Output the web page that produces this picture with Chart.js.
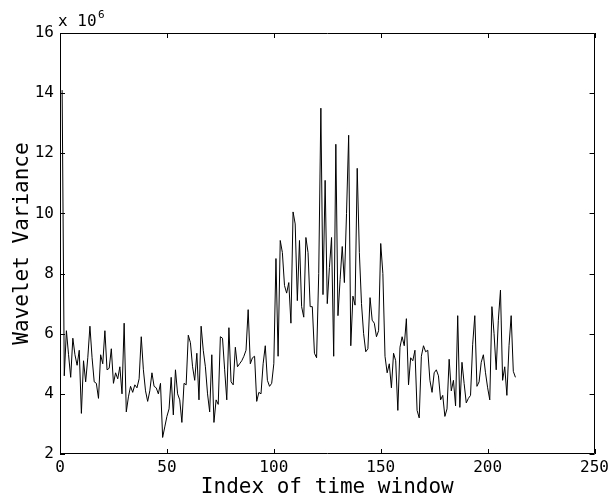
<!DOCTYPE html>
<html>
<head>
<meta charset="utf-8">
<script src="https://cdn.jsdelivr.net/npm/chart.js@4"></script>
<style>
  html, body { margin: 0; padding: 0; background: #fff; }
  #wrap { width: 613px; height: 504px; }
</style>
</head>
<body>
<div id="wrap"><canvas id="graph" width="613" height="504"></canvas></div>
<script>
// wavelet variance per time window, in units of 10^6
const variance = [
  14.1, 4.6, 6.1, 5.3, 4.55, 5.85, 5.3, 4.95, 5.45, 3.35,
  5.1, 4.4, 5.2, 6.25, 5.2, 4.4, 4.35, 3.85, 5.3, 5.0,
  6.1, 4.8, 4.85, 5.5, 4.35, 4.7, 4.5, 4.9, 4.0, 6.35,
  3.4, 3.9, 4.25, 4.05, 4.3, 4.2, 4.5, 5.9, 4.8, 4.1,
  3.75, 4.1, 4.7, 4.25, 4.2, 4.0, 4.35, 2.55, 2.9, 3.25,
  3.5, 4.55, 3.3, 4.8, 4.0, 3.8, 3.05, 4.35, 4.3, 5.95,
  5.7, 4.9, 4.45, 5.35, 3.8, 6.25, 5.45, 4.9, 4.0, 3.4,
  5.3, 3.05, 3.8, 3.65, 5.9, 5.85, 4.8, 3.8, 6.2, 4.4,
  4.3, 5.55, 4.9, 5.0, 5.1, 5.25, 5.45, 6.8, 5.0, 5.2,
  5.25, 3.75, 4.05, 4.0, 5.0, 5.6, 4.45, 4.25, 4.35, 5.0,
  8.5, 5.25, 9.1, 8.7, 7.6, 7.35, 7.7, 6.35, 10.05, 9.65,
  7.1, 9.1, 6.9, 6.55, 9.2, 8.7, 6.9, 6.9, 5.35, 5.2,
  8.0, 13.5, 7.3, 11.1, 7.0, 8.2, 9.2, 5.25, 12.3, 6.6,
  7.8, 8.9, 7.7, 10.0, 12.6, 5.6, 7.25, 6.95, 11.5, 8.7,
  7.0, 6.0, 5.4, 5.5, 7.2, 6.45, 6.35, 5.9, 6.1, 9.0,
  8.0, 5.25, 4.7, 5.0, 4.2, 5.35, 5.1, 3.45, 5.55, 5.9,
  5.6, 6.5, 4.3, 5.2, 5.1, 5.45, 3.45, 3.2, 5.25, 5.6,
  5.4, 5.45, 4.45, 4.05, 4.7, 4.8, 4.6, 3.8, 3.95, 3.25,
  3.5, 5.15, 4.1, 4.45, 3.6, 6.6, 3.55, 5.05, 4.35, 3.7,
  3.85, 3.95, 5.65, 6.6, 4.25, 4.4, 5.05, 5.3, 4.7, 4.2,
  3.8, 6.9, 6.0, 4.8, 6.45, 7.45, 4.45, 4.9, 3.95, 5.6,
  6.6, 4.75, 4.55
];
const xTicks = [0, 50, 100, 150, 200, 250];
const yTicks = [2, 4, 6, 8, 10, 12, 14, 16];

const points = variance.map((v, i) => ({ x: i + 1, y: v }));
const monoFont = "'DejaVu Sans Mono', monospace";

// matlab style frame: box all round, ticks pointing inwards
const matlabFrame = {
  id: 'matlabFrame',
  afterDraw(chart) {
    const ctx = chart.ctx;
    const a = chart.chartArea;
    const xs = chart.scales.x, ys = chart.scales.y;
    const tl = 5;
    ctx.save();
    ctx.strokeStyle = '#000';
    ctx.lineWidth = 1;
    ctx.beginPath();
    ctx.rect(Math.round(a.left) + 0.5, Math.round(a.top) + 0.5,
             Math.round(a.width) - 1, Math.round(a.height) - 1);
    xTicks.forEach(v => {
      const px = Math.round(xs.getPixelForValue(v)) + 0.5;
      ctx.moveTo(px, a.bottom); ctx.lineTo(px, a.bottom - tl);
      ctx.moveTo(px, a.top); ctx.lineTo(px, a.top + tl);
    });
    yTicks.forEach(v => {
      const py = Math.round(ys.getPixelForValue(v)) + 0.5;
      ctx.moveTo(a.left, py); ctx.lineTo(a.left + tl, py);
      ctx.moveTo(a.right, py); ctx.lineTo(a.right - tl, py);
    });
    ctx.stroke();
    // exponent label
    ctx.fillStyle = '#000';
    ctx.textBaseline = 'alphabetic';
    ctx.font = '16px ' + monoFont;
    ctx.fillText('x 10', a.left - 2, a.top - 7);
    ctx.font = '11px ' + monoFont;
    ctx.fillText('6', a.left + 38, a.top - 15);
    ctx.restore();
  }
};

new Chart(document.getElementById('graph'), {
  type: 'line',
  data: {
    datasets: [{
      data: points,
      borderColor: '#000',
      borderWidth: 1,
      pointRadius: 0,
      tension: 0,
      fill: false
    }]
  },
  options: {
    responsive: false,
    animation: false,
    layout: { padding: { top: 33, right: 15, left: 0, bottom: 0 } },
    plugins: { legend: { display: false }, tooltip: { enabled: false } },
    scales: {
      x: {
        type: 'linear',
        min: 0, max: 250,
        afterFit: s => { s.height = 50; },
        afterBuildTicks: s => { s.ticks = xTicks.map(v => ({ value: v })); },
        grid: { display: false, drawTicks: false },
        border: { display: false },
        ticks: { color: '#000', padding: 4, font: { family: monoFont, size: 16 } },
        title: {
          display: true, text: 'Index of time window', color: '#000',
          font: { family: monoFont, size: 21, lineHeight: 1 },
          padding: { top: 0, bottom: 6 }
        }
      },
      y: {
        min: 2, max: 16,
        afterFit: s => { s.width = 60; },
        afterBuildTicks: s => { s.ticks = yTicks.map(v => ({ value: v })); },
        grid: { display: false, drawTicks: false },
        border: { display: false },
        ticks: { color: '#000', padding: 6, font: { family: monoFont, size: 16 } },
        title: {
          display: true, text: 'Wavelet Variance', color: '#000',
          font: { family: monoFont, size: 21, lineHeight: 1 },
          padding: { top: 12, bottom: 0 }
        }
      }
    }
  },
  plugins: [matlabFrame]
});
</script>
</body>
</html>
